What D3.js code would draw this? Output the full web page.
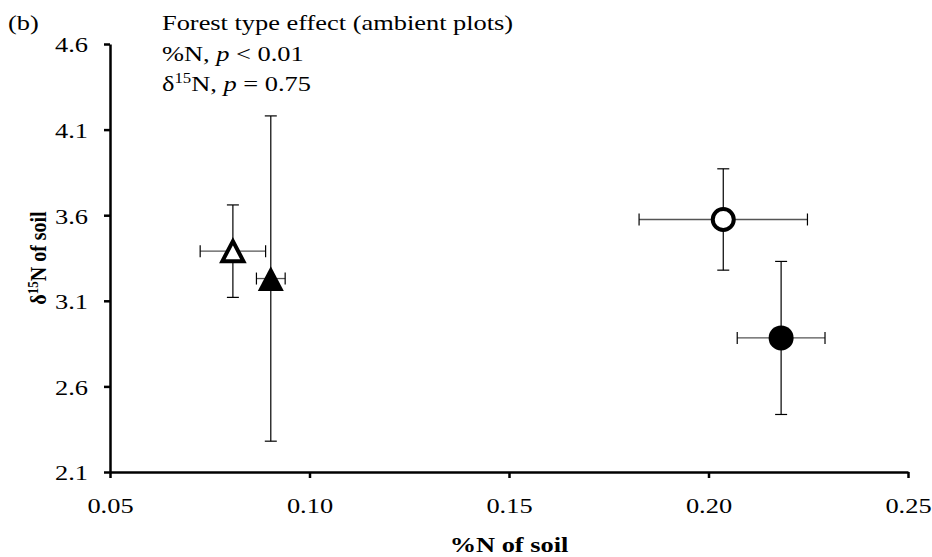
<!DOCTYPE html>
<html>
<head>
<meta charset="utf-8">
<script src="https://cdn.jsdelivr.net/npm/d3@7"></script>
<style>
  body { margin: 0; background: #fff; }
  text { font-family: "Liberation Serif", "Times New Roman", serif; fill: #000; }
</style>
</head>
<body>
<div id="chart"></div>
<script>
// data
var groups = ["open triangle", "filled triangle", "open circle", "filled circle"];
var shapes = ["triangle", "triangle", "circle", "circle"];
var filled = [false, true, false, true];
var pctN = [0.0808, 0.0903, 0.2037, 0.2182];
var pctNErr = [0.0082, 0.0036, 0.0211, 0.0110];
var d15N = [3.39, 3.23, 3.575, 2.883];
var d15NErr = [0.27, 0.95, 0.296, 0.447];
var xTicks = [0.05, 0.10, 0.15, 0.20, 0.25];
var yTicks = [2.1, 2.6, 3.1, 3.6, 4.1, 4.6];

var W = 932, H = 557;
var margin = {top: 44, right: 24, bottom: 85, left: 110},
    width = W - margin.left - margin.right,
    height = H - margin.top - margin.bottom;
var sx = 1.2;   // the figure's text is a little wide, stretch it

var svg = d3.select("#chart").append("svg")
    .attr("width", W)
    .attr("height", H);

var g = svg.append("g")
    .attr("transform", "translate(" + margin.left + "," + margin.top + ")");

var x = d3.scaleLinear().domain([0.05, 0.25]).range([0, width]);
var y = d3.scaleLinear().domain([2.1, 4.6]).range([height, 0]);

// axes
var xAxis = g.append("g")
    .attr("transform", "translate(0," + height + ")")
    .call(d3.axisBottom(x).tickValues(xTicks).tickFormat(d3.format(".2f")).tickSizeInner(6).tickSizeOuter(0).tickPadding(19));
var yAxis = g.append("g")
    .call(d3.axisLeft(y).tickValues(yTicks).tickFormat(d3.format(".1f")).tickSizeInner(6).tickSizeOuter(0));

[xAxis, yAxis].forEach(function(a) {
  a.select(".domain").attr("stroke", "#000").attr("stroke-width", 2.5);
  a.selectAll(".tick line").attr("stroke", "#000").attr("stroke-width", 2.5);
  a.selectAll(".tick text")
    .style("font-family", "'Liberation Serif', serif")
    .style("font-size", "22px")
    .attr("fill", "#000")
    .attr("transform", "scale(" + sx + ",1)");
});
yAxis.selectAll(".tick text").attr("x", -22 / sx).attr("dy", "0.36em");

var data = groups.map(function(name, i) {
  return {name: name, shape: shapes[i], filled: filled[i],
          x: pctN[i], xe: pctNErr[i], y: d15N[i], ye: d15NErr[i]};
});

var cap = 6;
var bars = g.append("g");
data.forEach(function(d) {
  // horizontal error bar
  bars.append("line")
    .attr("x1", x(d.x - d.xe)).attr("x2", x(d.x + d.xe))
    .attr("y1", y(d.y)).attr("y2", y(d.y))
    .attr("stroke", "#555").attr("stroke-width", 1.3);
  [d.x - d.xe, d.x + d.xe].forEach(function(v) {
    bars.append("line")
      .attr("x1", x(v)).attr("x2", x(v))
      .attr("y1", y(d.y) - cap).attr("y2", y(d.y) + cap)
      .attr("stroke", "#000").attr("stroke-width", 1.2);
  });
  // vertical error bar
  bars.append("line")
    .attr("x1", x(d.x)).attr("x2", x(d.x))
    .attr("y1", y(d.y - d.ye)).attr("y2", y(d.y + d.ye))
    .attr("stroke", "#000").attr("stroke-width", 1.2);
  [d.y - d.ye, d.y + d.ye].forEach(function(v) {
    bars.append("line")
      .attr("x1", x(d.x) - cap).attr("x2", x(d.x) + cap)
      .attr("y1", y(v)).attr("y2", y(v))
      .attr("stroke", "#000").attr("stroke-width", 1.2);
  });
});

// markers
function triPath(cx, cy, s) {
  var h = s * 0.95;
  return "M" + cx + "," + (cy - h / 2) +
         "L" + (cx + s / 2) + "," + (cy + h / 2) +
         "L" + (cx - s / 2) + "," + (cy + h / 2) + "Z";
}
var marks = g.append("g");
data.forEach(function(d) {
  if (d.shape === "circle") {
    marks.append("circle")
      .attr("cx", x(d.x)).attr("cy", y(d.y))
      .attr("r", d.filled ? 12.5 : 10.5)
      .attr("fill", d.filled ? "#000" : "#fff")
      .attr("stroke", "#000")
      .attr("stroke-width", d.filled ? 0 : 4);
  } else {
    marks.append("path")
      .attr("d", d.filled ? triPath(x(d.x), y(d.y), 26) : triPath(x(d.x), y(d.y), 21))
      .attr("fill", d.filled ? "#000" : "#fff")
      .attr("stroke", "#000")
      .attr("stroke-linejoin", "miter")
      .attr("stroke-width", d.filled ? 0 : 4);
  }
});

// panel label and annotations
svg.append("text")
  .attr("transform", "translate(8,30) scale(" + sx + ",1)")
  .style("font-size", "22px").text("(b)");

var ann = svg.append("text")
  .attr("transform", "translate(162,0) scale(" + sx + ",1)")
  .style("font-size", "22px");
ann.append("tspan").attr("x", 0).attr("y", 30).text("Forest type effect (ambient plots)");
ann.append("tspan").attr("x", 0).attr("y", 61).text("%N, ");
ann.append("tspan").style("font-style", "italic").text("p");
ann.append("tspan").text(" < 0.01");
ann.append("tspan").attr("x", 0).attr("y", 91).text("δ");
ann.append("tspan").attr("dy", -8).style("font-size", "14px").text("15");
ann.append("tspan").attr("dy", 8).text("N, ");
ann.append("tspan").style("font-style", "italic").text("p");
ann.append("tspan").text(" = 0.75");

// axis titles
svg.append("text")
  .attr("transform", "translate(" + (margin.left + width / 2) + ",552) scale(" + sx + ",1)")
  .attr("text-anchor", "middle")
  .style("font-size", "22px").style("font-weight", "bold")
  .text("%N of soil");

var yt = svg.append("text")
  .attr("transform", "translate(46," + (margin.top + height / 2) + ") rotate(-90) scale(1," + sx + ")")
  .attr("text-anchor", "middle")
  .style("font-size", "20px").style("font-weight", "bold");
yt.append("tspan").text("δ");
yt.append("tspan").attr("dy", -7).style("font-size", "13px").text("15");
yt.append("tspan").attr("dy", 7).text("N of soil");
</script>
</body>
</html>
